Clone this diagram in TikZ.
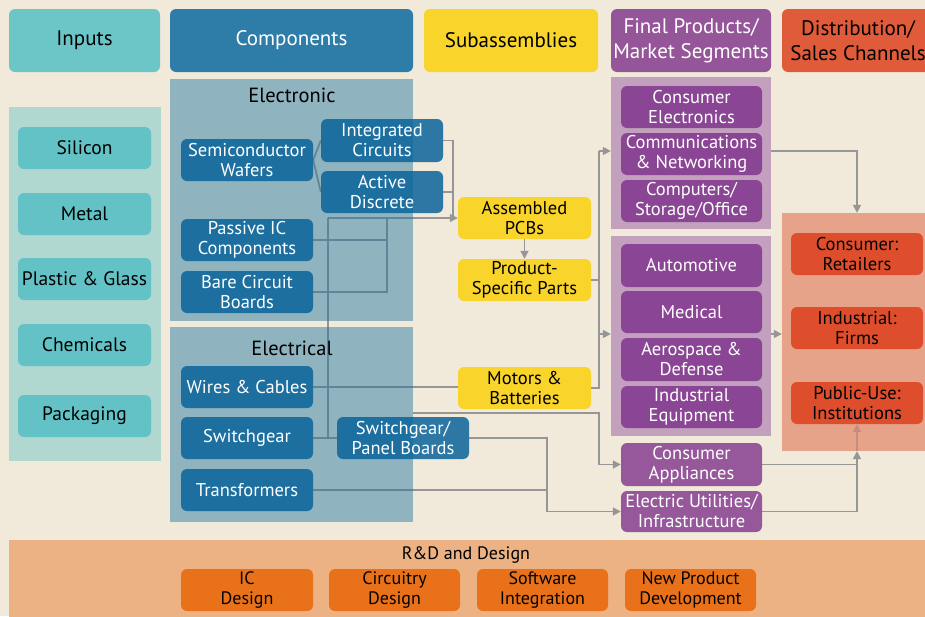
\documentclass[tikz,border=0pt]{standalone}
\usepackage{fontspec}
\setmainfont{PT Sans}
\usetikzlibrary{arrows.meta}

\definecolor{cBg}{HTML}{F1E9D9}
\definecolor{cInH}{HTML}{6CC6C7}
\definecolor{cInP}{HTML}{B0D8D1}
\definecolor{cInI}{HTML}{62C2C6}
\definecolor{cCompH}{HTML}{2E7DA8}
\definecolor{cCompP}{HTML}{8FB3BF}
\definecolor{cCompI}{RGB}{10,100,155}
\definecolor{cYel}{HTML}{F9D52C}
\definecolor{cFPH}{HTML}{955599}
\definecolor{cFPP}{HTML}{C3A0BE}
\definecolor{cFPI}{RGB}{120,40,135}
\definecolor{cDistH}{HTML}{E05B3A}
\definecolor{cDistP}{HTML}{E6A389}
\definecolor{cDistI}{HTML}{DF4E2C}
\definecolor{cRDP}{HTML}{EDB283}
\definecolor{cRDI}{HTML}{E97119}
\definecolor{cWire}{HTML}{969696}
\definecolor{cWireDark}{HTML}{5E8598}
\definecolor{cWireFade}{HTML}{C48E7C}

\pgfdeclarelayer{back}
\pgfdeclarelayer{wires}
\pgfsetlayers{back,wires,main}

% box placed by its corners (x1,y1) (x2,y2)
\newcommand\cell[7]{%
  \node[#2, minimum width={#5-#3}, minimum height={#6-#4}] (#1)
    at ({(#3+#5)/2},{(#4+#6)/2}) {#7};}

\newcommand\hdrfont{\fontsize{21}{25}\selectfont}
\newcommand\itemfont{\fontsize{18.5}{20}\selectfont}
\newcommand\inpfont{\fontsize{19.5}{21}\selectfont}
\newcommand\rdfont{\fontsize{18}{20}\selectfont}

\begin{document}
\begin{tikzpicture}[x=1pt,y=-1pt,
  box/.style={rounded corners=6pt, align=center, inner sep=0pt, font=\itemfont},
  hdr/.style={box, font=\hdrfont},
  panel/.style={inner sep=0pt},
  inbox/.style={box, fill=cInI, font=\inpfont},
  bluebox/.style={box, fill=cCompI, fill opacity=0.85, text opacity=1, text=white},
  yelbox/.style={box, fill=cYel},
  purbox/.style={box, fill=cFPI, fill opacity=0.75, text opacity=1, text=white},
  redbox/.style={box, fill=cDistI},
  rdbox/.style={box, fill=cRDI, font=\rdfont},
  ptitle/.style={font=\fontsize{20.5}{22}\selectfont, inner sep=0pt},
  wire/.style={draw=cWire, line width=1.6pt},
  arr/.style={-{Triangle[length=8pt,width=8pt]}},
]
\useasboundingbox (0,0) rectangle (925,616);
\clip (0,0) rectangle (925,616);

% ---------- background and group panels ----------
\begin{pgfonlayer}{back}
  \clip (0,0) rectangle (925,616);
  \fill[cBg] (0,0) rectangle (925,616);
  \cell{pIn}{panel,fill=cInP}{9}{107}{161}{461}{}
  \cell{pElec}{panel,fill=cCompP}{170}{79}{413}{321}{}
  \cell{pElct}{panel,fill=cCompP}{170}{327}{413}{522}{}
  \cell{fp1}{panel,fill=cFPP}{611}{77}{771}{229}{}
  \cell{fp2}{panel,fill=cFPP}{611}{236}{771}{436}{}
  \cell{dp}{panel,fill=cDistP}{782}{213}{935}{451}{}
  \cell{rd}{panel,fill=cRDP}{9}{540}{935}{626}{}
\end{pgfonlayer}

% ---------- column headers ----------
\cell{hIn}{hdr,fill=cInH}{9}{9}{160}{72}{Inputs}
\cell{hComp}{hdr,fill=cCompH,text=white}{170}{9}{413}{72}{Components}
\cell{hSub}{hdr,fill=cYel}{424}{9}{598}{72}{Subassemblies}
\cell{hFP}{hdr,fill=cFPH,text=white}{611}{9}{771}{72}{Final Products/\\Market Segments}
\cell{hDist}{hdr,fill=cDistH}{782}{9}{934}{72}{Distribution/\\Sales Channels}

% ---------- inputs ----------
\cell{si}{inbox}{18}{127}{151}{169}{Silicon}
\cell{me}{inbox}{18}{193}{151}{235}{Metal}
\cell{pg}{inbox}{18}{258}{151}{300}{Plastic \& Glass}
\cell{ch}{inbox}{18}{324}{151}{366}{Chemicals}
\cell{pk}{inbox}{18}{395}{151}{437}{Packaging}

% ---------- components ----------
\node[ptitle] (tElec) at (292,95) {Electronic};
\node[ptitle] (tElct) at (292,348) {Electrical};
\cell{sw}{bluebox}{181}{139}{313}{181}{Semiconductor\\Wafers}
\cell{ic}{bluebox}{321}{119}{443}{162}{Integrated\\Circuits}
\cell{ad}{bluebox}{321}{171}{443}{213}{Active\\Discrete}
\cell{pic}{bluebox}{181}{219}{313}{261}{Passive IC\\Components}
\cell{bcb}{bluebox}{181}{271}{313}{313}{Bare Circuit\\Boards}
\cell{wc}{bluebox}{181}{366}{313}{408}{Wires \& Cables}
\cell{sg}{bluebox}{181}{417}{313}{459}{Switchgear}
\cell{tf}{bluebox}{181}{469}{313}{511}{Transformers}
\cell{spb}{bluebox}{337}{417}{469}{459}{Switchgear/\\Panel Boards}

% ---------- subassemblies ----------
\cell{apcb}{yelbox}{458}{197}{591}{239}{Assembled\\PCBs}
\cell{psp}{yelbox}{458}{259}{591}{301}{Product-\\Specific Parts}
\cell{mb}{yelbox}{458}{367}{591}{409}{Motors \&\\Batteries}

% ---------- final products ----------
\cell{ce}{purbox}{621}{86}{762}{128}{Consumer\\Electronics}
\cell{cn}{purbox}{621}{133}{762}{175}{Communications\\\& Networking}
\cell{cso}{purbox}{621}{180}{762}{222}{Computers/\\Storage/Office}
\cell{auto}{purbox}{621}{244}{762}{287}{Automotive}
\cell{med}{purbox}{621}{291}{762}{333}{Medical}
\cell{aero}{purbox}{621}{338}{762}{381}{Aerospace \&\\Defense}
\cell{ind}{purbox}{621}{386}{762}{428}{Industrial\\Equipment}
\cell{capp}{purbox}{621}{443}{762}{486}{Consumer\\Appliances}
\cell{eu}{purbox}{621}{491}{762}{532}{Electric Utilities/\\Infrastructure}

% ---------- distribution ----------
\cell{cr}{redbox}{791}{233}{923}{275}{Consumer:\\Retailers}
\cell{ifm}{redbox}{791}{307}{923}{349}{Industrial:\\Firms}
\cell{pu}{redbox}{791}{382}{923}{424}{Public-Use:\\Institutions}

% ---------- R&D ----------
\node[font=\rdfont, inner sep=0pt] (tRD) at (466,555) {R\&D and Design};
\cell{rdic}{rdbox}{181}{569}{313}{611}{IC\\Design}
\cell{rdcd}{rdbox}{329}{569}{460}{611}{Circuitry\\Design}
\cell{rdsi}{rdbox}{477}{569}{608}{611}{Software\\Integration}
\cell{rdnp}{rdbox}{625}{569}{756}{611}{New Product\\Development}

% ---------- junction points ----------
\coordinate (jA) at (453,218);
\coordinate (jV) at (328,218);
\coordinate (jB) at (387,218);
\coordinate (jC) at (599,151);
\coordinate (jD) at (599,334);
\coordinate (jE) at (413,413);
\coordinate (jG) at (547,490);

% ---------- connectors ----------
\newcommand\wiring{%
  \draw[wire] (sw.east) -- (ic.west);
  \draw[wire] (sw.east) -- (ad.west);
  \draw[wire] (ic.east) -| (jA);
  \draw[wire] (ad.east) -| (jA);
  \draw[wire,arr] (jV) -- (apcb.west);
  \draw[wire] (pic.east) -| (jB);
  \draw[wire] (bcb.east) -| (jB);
  \draw[wire] (jV) |- (sg.east);
  \draw[wire] (sg.east) -- (spb.west);
  \draw[wire] (wc.east) -- (wc.east -| mb.west);
  \draw[wire,arr] (apcb.south) -- (psp.north);
  \draw[wire] (psp.east) -- (psp.east -| jC);
  \draw[wire] (mb.east) -| (jC);
  \draw[wire,arr] (jC) -- (jC -| fp1.west);
  \draw[wire,arr] (jD) -- (jD -| fp2.west);
  \draw[wire,arr] (jE) -- (jE -| jC) |- (capp.west);
  \draw[wire,arr] (spb.east) -| (jG) |- (eu.west);
  \draw[wire] (tf.east) -- (jG);
  \draw[wire,arr] (jC -| fp1.east) -| (cr.north |- dp.north);
  \draw[wire,arr] (jD -| fp2.east) -- (jD -| dp.west);
  \draw[wire] (capp.east) -- (capp.east -| pu.south);
  \draw[wire,arr] (eu.east) -| (pu.south |- dp.south);
}
\begin{pgfonlayer}{wires}
  \wiring
  \draw[wire,draw=cWireFade,arr] (pu.south |- dp.south) -- (pu.south);
  % lines running across the component panels are darker
  \begin{scope}
    \clip (pElec.north west) rectangle (pElec.south east)
          (pElct.north west) rectangle (pElct.south east);
    \tikzset{wire/.style={draw=cWireDark, line width=1.6pt}}
    \wiring
  \end{scope}
\end{pgfonlayer}
\end{tikzpicture}
\end{document}
